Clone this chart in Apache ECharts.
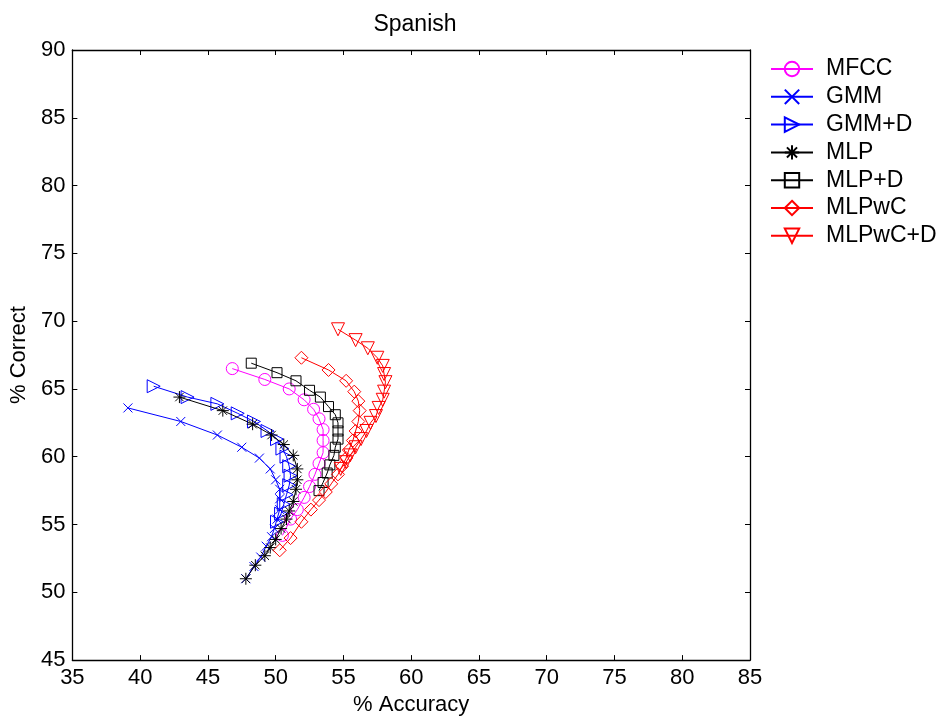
<!DOCTYPE html>
<html><head><meta charset="utf-8">
<script src="https://cdn.jsdelivr.net/npm/echarts@6/dist/echarts.min.js"></script>
<style>html,body{margin:0;padding:0;background:#fff}#c{width:943px;height:721px}</style>
</head><body><div id="c"></div>
<script>
const seriesNames = ['MFCC','GMM','GMM+D','MLP','MLP+D','MLPwC','MLPwC+D'];
const xTicks = [35,40,45,50,55,60,65,70,75,80,85];
const yTicks = [45,50,55,60,65,70,75,80,85,90];

const mfccX = [46.8,49.2,51.0,52.1,52.8,53.2,53.5,53.5,53.5,53.2,52.9,52.5,52.1,51.6,51.1,50.5];
const mfccY = [66.5,65.7,65.0,64.2,63.5,62.8,62.0,61.2,60.3,59.5,58.7,57.8,57.0,56.1,55.4,54.2];

const gmmX = [39.1,43.0,45.7,47.5,48.8,49.6,50.0,50.3,50.3,50.3,50.1,49.9,49.7,49.3,48.9,48.4,47.8];
const gmmY = [63.6,62.6,61.6,60.7,59.9,59.1,58.3,57.6,56.9,56.1,55.4,54.7,54.1,53.4,52.6,51.9,51.0];

const gmmdX = [41.0,43.5,45.7,47.2,48.4,49.4,50.1,50.5,50.8,51.0,51.1,51.0,50.8,50.6,50.4,50.1];
const gmmdY = [65.2,64.4,63.9,63.2,62.6,61.9,61.3,60.6,60.0,59.3,58.6,57.9,57.2,56.5,55.8,55.2];

const mlpX = [42.9,46.1,48.3,49.7,50.6,51.3,51.6,51.6,51.5,51.3,51.0,50.8,50.4,50.0,49.6,49.2,48.5,47.8];
const mlpY = [64.4,63.4,62.4,61.6,60.9,60.1,59.1,58.3,57.6,56.7,56.0,55.4,54.7,53.9,53.3,52.7,52.0,51.0];

const mlpdX = [48.2,50.1,51.5,52.5,53.3,53.9,54.4,54.6,54.6,54.6,54.4,54.3,54.0,53.8,53.5,53.2];
const mlpdY = [66.9,66.2,65.6,64.9,64.4,63.7,63.1,62.5,61.9,61.3,60.7,60.1,59.4,58.8,58.1,57.5];

const mlpwcX = [51.9,53.9,55.2,55.8,56.1,56.2,56.1,55.9,55.7,55.4,55.2,54.9,54.6,54.1,53.7,53.2,52.6,51.9,51.1,50.3];
const mlpwcY = [67.3,66.4,65.6,64.8,64.1,63.4,62.6,61.9,61.2,60.5,59.9,59.3,58.7,58.0,57.4,56.8,56.1,55.2,54.0,53.1];

const mlpwcdX = [54.6,55.9,56.8,57.5,57.9,58.0,58.1,58.0,57.9,57.6,57.4,57.0,56.7,56.3,55.9,55.5,55.2,54.8];
const mlpwcdY = [69.4,68.6,68.0,67.3,66.7,66.1,65.5,64.8,64.2,63.6,63.0,62.5,61.9,61.3,60.7,60.1,59.6,59.1];

const xs = [mfccX,gmmX,gmmdX,mlpX,mlpdX,mlpwcX,mlpwcdX];
const ys = [mfccY,gmmY,gmmdY,mlpY,mlpdY,mlpwcY,mlpwcdY];
const colors = ['#ff00ff','#0000ff','#0000ff','#000000','#000000','#ff0000','#ff0000'];
const symbols = [
  'path://M10,5 A5,5 0 1,1 0,5 A5,5 0 1,1 10,5 Z',
  'path://M0,0 L10,10 M10,0 L0,10',
  'path://M0,0 L10,5 L0,10 Z',
  'path://M5,0 L5,10 M0,5 L10,5 M1.5,1.5 L8.5,8.5 M8.5,1.5 L1.5,8.5',
  'path://M0,0 L10,0 L10,10 L0,10 Z',
  'path://M5,0 L10,5 L5,10 L0,5 Z',
  'path://M0,0 L10,0 L5,10 Z'
];
const sizes = [12,9,13,12,10,13,13];

const font = 'Liberation Sans, Arial, Helvetica, sans-serif';
const chart = echarts.init(document.getElementById('c'));

const series = seriesNames.map((n,i)=>({
  name:n, type:'line', xAxisIndex:0, yAxisIndex:0,
  data: xs[i].map((x,j)=>[x, ys[i][j]]),
  symbol: symbols[i], symbolSize: sizes[i], showAllSymbol:true,
  lineStyle:{color:colors[i], width:1},
  itemStyle:{color:'rgba(0,0,0,0)', borderColor:colors[i], borderWidth:1},
  emphasis:{disabled:true}, animation:false, z: 2+i
}));

function axisCommon(extra){
  return Object.assign({
    type:'value', min:35, max:85, interval:5,
    axisLine:{show:true, onZero:false, lineStyle:{color:'#000', width:1.3}},
    axisTick:{show:true, inside:true, length:5, lineStyle:{color:'#000', width:1}},
    splitLine:{show:false},
    axisLabel:{color:'#000', fontSize:22, fontFamily:font, margin:7},
  }, extra);
}

chart.setOption({
  animation:false,
  backgroundColor:'#fff',
  title:{text:'Spanish', left:410, top:8, textAlign:'center',
    textStyle:{fontSize:23, fontWeight:'normal', color:'#000', fontFamily:font}},
  grid:{left:71, right:193, top:50, bottom:60, containLabel:false},
  legend:{
    orient:'vertical', left:765, top:52.5, itemWidth:42, itemHeight:18, itemGap:4.8,
    data:seriesNames,
    textStyle:{fontSize:23, color:'#000', fontFamily:font, padding:[0,0,0,8]},
    selectedMode:false
  },
  xAxis:[
    axisCommon({position:'bottom', name:'% Accuracy', nameLocation:'middle', nameGap:33,
      nameTextStyle:{fontSize:22, color:'#000', fontFamily:font}}),
    axisCommon({position:'top', axisLabel:{show:false}})
  ],
  yAxis:[
    axisCommon({min:45, max:90, position:'left', name:'% Correct', nameLocation:'middle', nameGap:35,
      nameRotate:90, nameTextStyle:{fontSize:22, color:'#000', fontFamily:font}}),
    axisCommon({min:45, max:90, position:'right', axisLabel:{show:false}})
  ],
  series: series
});
</script></body></html>
